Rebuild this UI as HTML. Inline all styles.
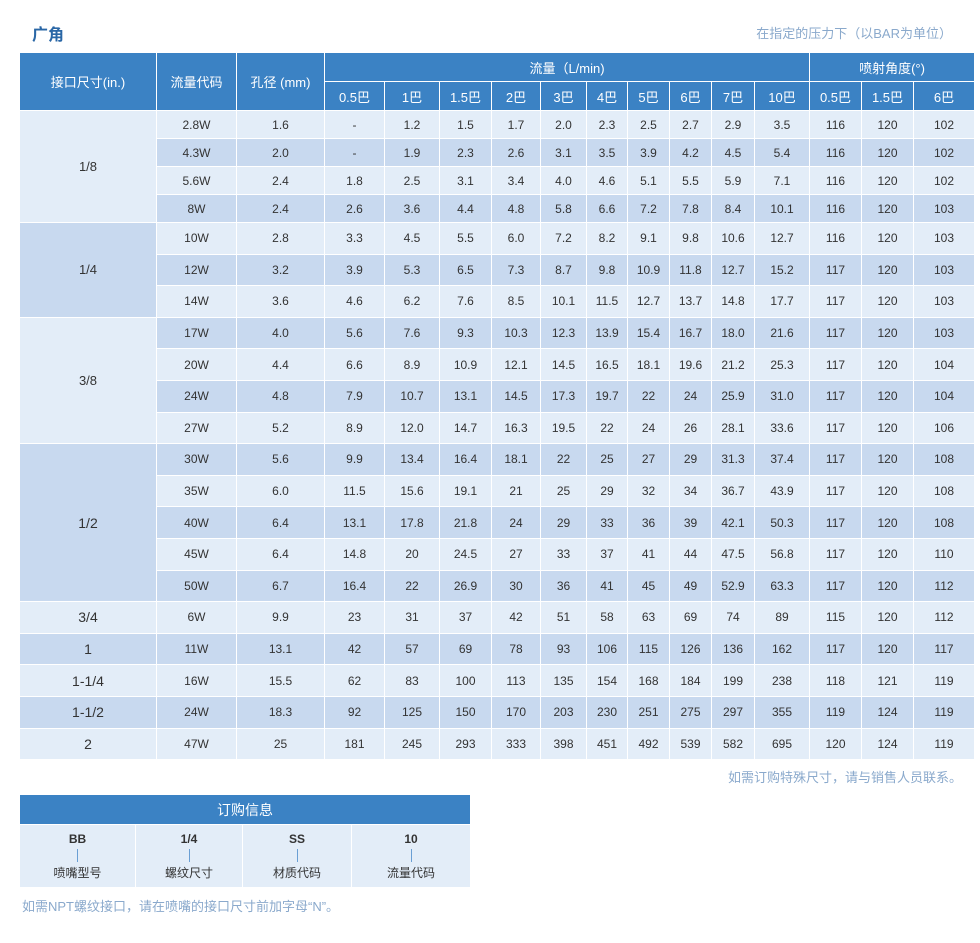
<!DOCTYPE html><html><head><meta charset="utf-8"><style>
body{margin:0;width:980px;height:943px;background:#fff;font-family:"Liberation Sans","Noto Sans CJK SC",sans-serif;position:relative;overflow:hidden}
.t{position:absolute;left:19px;top:52px;border-collapse:collapse;table-layout:fixed;font-size:12px;color:#333}
.t td,.t th{border:1px solid #fff;text-align:center;padding:0;white-space:nowrap}
.t th{background:#3b82c4;color:#fff;font-weight:normal;font-size:13px;height:28px}
.a td{background:#e3edf8}.b td{background:#c8d9ef}
.g1{background:#e3edf8!important;font-size:13px}.g2{background:#c8d9ef!important;font-size:13px}
.r1 td{height:27px}.r td{height:30.6px}
.o{position:absolute;left:19px;top:794px;width:452px;border-collapse:collapse;table-layout:fixed}
.o td{border:1px solid #fff;text-align:center;padding:0}
</style></head><body>
<div style="position:absolute;left:32px;top:21px;font-size:16px;font-weight:bold;color:#2a67a6">广角</div>
<div style="position:absolute;right:28px;top:23px;font-size:13px;color:#8aa9cc">在指定的压力下（以BAR为单位）</div>
<table class="t">
<colgroup><col style="width:137px"><col style="width:80px"><col style="width:88px"><col style="width:60px"><col style="width:55px"><col style="width:52px"><col style="width:49px"><col style="width:46px"><col style="width:41px"><col style="width:42px"><col style="width:42px"><col style="width:43px"><col style="width:55px"><col style="width:52px"><col style="width:52px"><col style="width:61px"></colgroup>
<tr><th rowspan="2">接口尺寸(in.)</th><th rowspan="2">流量代码</th><th rowspan="2">孔径 (mm)</th><th colspan="10">流量（L/min)</th><th colspan="3">喷射角度(°)</th></tr>
<tr><th>0.5巴</th><th>1巴</th><th>1.5巴</th><th>2巴</th><th>3巴</th><th>4巴</th><th>5巴</th><th>6巴</th><th>7巴</th><th>10巴</th><th>0.5巴</th><th>1.5巴</th><th>6巴</th></tr>
<tr class="a r1"><td rowspan="4" class="g1">1/8</td><td>2.8W</td><td>1.6</td><td>-</td><td>1.2</td><td>1.5</td><td>1.7</td><td>2.0</td><td>2.3</td><td>2.5</td><td>2.7</td><td>2.9</td><td>3.5</td><td>116</td><td>120</td><td>102</td></tr>
<tr class="b r1"><td>4.3W</td><td>2.0</td><td>-</td><td>1.9</td><td>2.3</td><td>2.6</td><td>3.1</td><td>3.5</td><td>3.9</td><td>4.2</td><td>4.5</td><td>5.4</td><td>116</td><td>120</td><td>102</td></tr>
<tr class="a r1"><td>5.6W</td><td>2.4</td><td>1.8</td><td>2.5</td><td>3.1</td><td>3.4</td><td>4.0</td><td>4.6</td><td>5.1</td><td>5.5</td><td>5.9</td><td>7.1</td><td>116</td><td>120</td><td>102</td></tr>
<tr class="b r1"><td>8W</td><td>2.4</td><td>2.6</td><td>3.6</td><td>4.4</td><td>4.8</td><td>5.8</td><td>6.6</td><td>7.2</td><td>7.8</td><td>8.4</td><td>10.1</td><td>116</td><td>120</td><td>103</td></tr>
<tr class="a r"><td rowspan="3" class="g2">1/4</td><td>10W</td><td>2.8</td><td>3.3</td><td>4.5</td><td>5.5</td><td>6.0</td><td>7.2</td><td>8.2</td><td>9.1</td><td>9.8</td><td>10.6</td><td>12.7</td><td>116</td><td>120</td><td>103</td></tr>
<tr class="b r"><td>12W</td><td>3.2</td><td>3.9</td><td>5.3</td><td>6.5</td><td>7.3</td><td>8.7</td><td>9.8</td><td>10.9</td><td>11.8</td><td>12.7</td><td>15.2</td><td>117</td><td>120</td><td>103</td></tr>
<tr class="a r"><td>14W</td><td>3.6</td><td>4.6</td><td>6.2</td><td>7.6</td><td>8.5</td><td>10.1</td><td>11.5</td><td>12.7</td><td>13.7</td><td>14.8</td><td>17.7</td><td>117</td><td>120</td><td>103</td></tr>
<tr class="b r"><td rowspan="4" class="g1">3/8</td><td>17W</td><td>4.0</td><td>5.6</td><td>7.6</td><td>9.3</td><td>10.3</td><td>12.3</td><td>13.9</td><td>15.4</td><td>16.7</td><td>18.0</td><td>21.6</td><td>117</td><td>120</td><td>103</td></tr>
<tr class="a r"><td>20W</td><td>4.4</td><td>6.6</td><td>8.9</td><td>10.9</td><td>12.1</td><td>14.5</td><td>16.5</td><td>18.1</td><td>19.6</td><td>21.2</td><td>25.3</td><td>117</td><td>120</td><td>104</td></tr>
<tr class="b r"><td>24W</td><td>4.8</td><td>7.9</td><td>10.7</td><td>13.1</td><td>14.5</td><td>17.3</td><td>19.7</td><td>22</td><td>24</td><td>25.9</td><td>31.0</td><td>117</td><td>120</td><td>104</td></tr>
<tr class="a r"><td>27W</td><td>5.2</td><td>8.9</td><td>12.0</td><td>14.7</td><td>16.3</td><td>19.5</td><td>22</td><td>24</td><td>26</td><td>28.1</td><td>33.6</td><td>117</td><td>120</td><td>106</td></tr>
<tr class="b r"><td rowspan="5" class="g2" style="font-size:14px">1/2</td><td>30W</td><td>5.6</td><td>9.9</td><td>13.4</td><td>16.4</td><td>18.1</td><td>22</td><td>25</td><td>27</td><td>29</td><td>31.3</td><td>37.4</td><td>117</td><td>120</td><td>108</td></tr>
<tr class="a r"><td>35W</td><td>6.0</td><td>11.5</td><td>15.6</td><td>19.1</td><td>21</td><td>25</td><td>29</td><td>32</td><td>34</td><td>36.7</td><td>43.9</td><td>117</td><td>120</td><td>108</td></tr>
<tr class="b r"><td>40W</td><td>6.4</td><td>13.1</td><td>17.8</td><td>21.8</td><td>24</td><td>29</td><td>33</td><td>36</td><td>39</td><td>42.1</td><td>50.3</td><td>117</td><td>120</td><td>108</td></tr>
<tr class="a r"><td>45W</td><td>6.4</td><td>14.8</td><td>20</td><td>24.5</td><td>27</td><td>33</td><td>37</td><td>41</td><td>44</td><td>47.5</td><td>56.8</td><td>117</td><td>120</td><td>110</td></tr>
<tr class="b r"><td>50W</td><td>6.7</td><td>16.4</td><td>22</td><td>26.9</td><td>30</td><td>36</td><td>41</td><td>45</td><td>49</td><td>52.9</td><td>63.3</td><td>117</td><td>120</td><td>112</td></tr>
<tr class="a r"><td class="g1" style="font-size:14px">3/4</td><td>6W</td><td>9.9</td><td>23</td><td>31</td><td>37</td><td>42</td><td>51</td><td>58</td><td>63</td><td>69</td><td>74</td><td>89</td><td>115</td><td>120</td><td>112</td></tr>
<tr class="b r"><td class="g2" style="font-size:14px">1</td><td>11W</td><td>13.1</td><td>42</td><td>57</td><td>69</td><td>78</td><td>93</td><td>106</td><td>115</td><td>126</td><td>136</td><td>162</td><td>117</td><td>120</td><td>117</td></tr>
<tr class="a r"><td class="g1" style="font-size:14px">1-1/4</td><td>16W</td><td>15.5</td><td>62</td><td>83</td><td>100</td><td>113</td><td>135</td><td>154</td><td>168</td><td>184</td><td>199</td><td>238</td><td>118</td><td>121</td><td>119</td></tr>
<tr class="b r"><td class="g2" style="font-size:14px">1-1/2</td><td>24W</td><td>18.3</td><td>92</td><td>125</td><td>150</td><td>170</td><td>203</td><td>230</td><td>251</td><td>275</td><td>297</td><td>355</td><td>119</td><td>124</td><td>119</td></tr>
<tr class="a r"><td class="g1" style="font-size:14px">2</td><td>47W</td><td>25</td><td>181</td><td>245</td><td>293</td><td>333</td><td>398</td><td>451</td><td>492</td><td>539</td><td>582</td><td>695</td><td>120</td><td>124</td><td>119</td></tr>
</table>
<div style="position:absolute;right:18px;top:767px;font-size:13px;color:#8aa9cc">如需订购特殊尺寸，请与销售人员联系。</div>
<table class="o">
<colgroup><col style="width:116px"><col style="width:107px"><col style="width:109px"><col style="width:119px"></colgroup>
<tr><td colspan="4" style="background:#3b82c4;color:#fff;font-size:14px;height:29px">订购信息</td></tr>
<tr style="background:#e3edf8;font-size:12px;color:#333"><td style="height:62px"><b>BB</b><div style="width:1px;height:13px;background:#6a9fd4;margin:3px auto 2px"></div>喷嘴型号</td><td><b>1/4</b><div style="width:1px;height:13px;background:#6a9fd4;margin:3px auto 2px"></div>螺纹尺寸</td><td><b>SS</b><div style="width:1px;height:13px;background:#6a9fd4;margin:3px auto 2px"></div>材质代码</td><td><b>10</b><div style="width:1px;height:13px;background:#6a9fd4;margin:3px auto 2px"></div>流量代码</td></tr>
</table>
<div style="position:absolute;left:22px;top:896px;font-size:13px;color:#8aa9cc">如需NPT螺纹接口，请在喷嘴的接口尺寸前加字母“N”。</div>
</body></html>
